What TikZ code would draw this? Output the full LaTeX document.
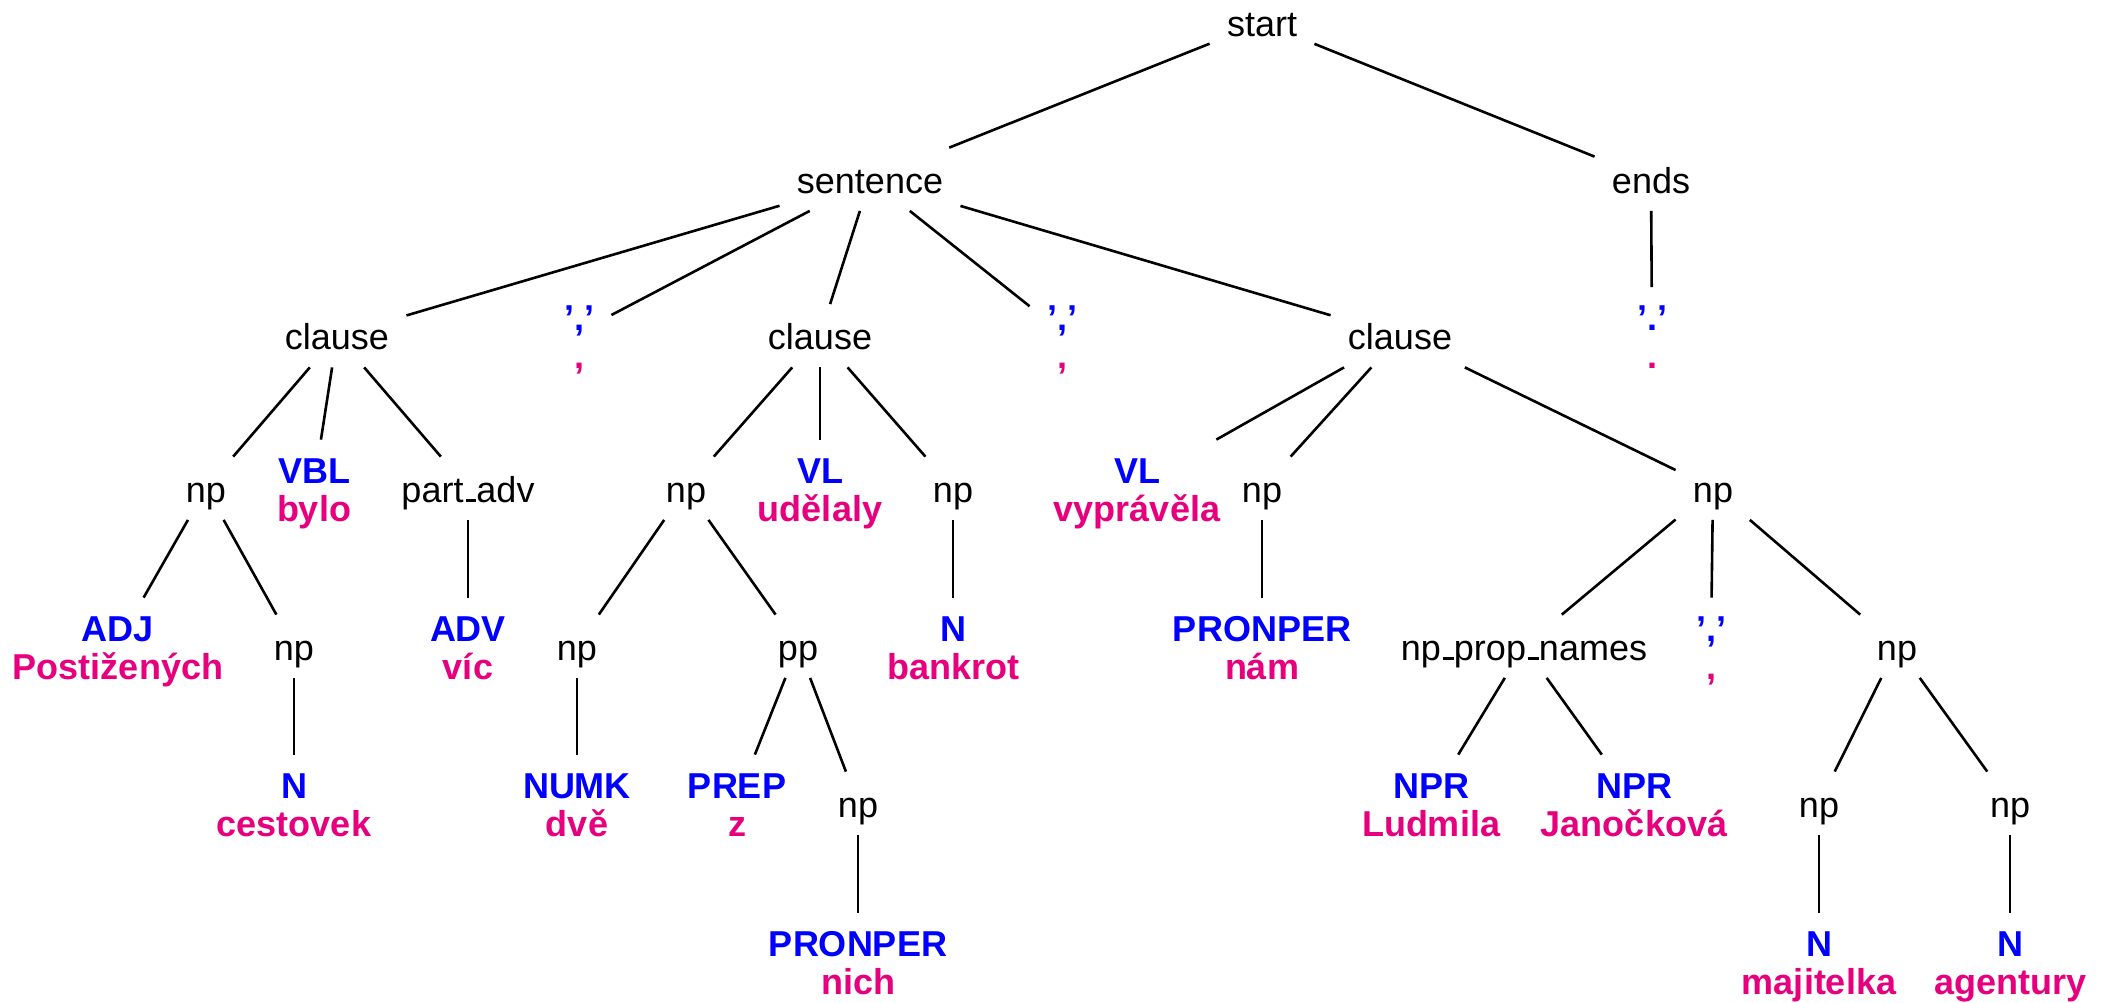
\documentclass[tikz,border=0pt]{standalone}
\usepackage{fontspec}
\setmainfont{Liberation Sans}
\definecolor{tblue}{HTML}{0000FF}
\definecolor{tpink}{HTML}{E6007E}
\newcommand\us{\leavevmode\kern.06em\vbox{\hrule width.3em height .08em}}
\newcommand\lfx[2]{\vtop{\baselineskip=19pt\lineskiplimit=0pt\halign{\hfil##\hfil\cr\textcolor{tblue}{\bfseries#1}\cr\textcolor{tpink}{\bfseries#2}\cr}}}
\begin{document}
\begin{tikzpicture}[x=0.5pt,y=-0.5pt,
  nt/.style={font=\fontsize{18pt}{19pt}\selectfont, anchor=base, text height=22.5pt, text depth=8.75pt, inner ysep=0pt, inner xsep=8.5pt},
  lf/.style={font=\fontsize{18pt}{19pt}\selectfont, anchor=base, text height=21.5pt, text depth=23pt, inner ysep=0pt, inner xsep=8.5pt},
  ed/.style={line width=1.3pt}]
\useasboundingbox (0,0) rectangle (2105,1002);
% level 0-2
\node[nt] (start) at (1262,36.5) {start};
\node[nt] (sentence) at (870,193) {sentence};
\node[nt] (ends) at (1651,193) {ends};
\node[nt] (cl1) at (337,349.5) {clause};
\node[lf] (cm1) at (579,330.5) {\lfx{’,’}{,}};
\node[nt] (cl2) at (820,349.5) {clause};
\node[lf] (cm2) at (1062,330.5) {\lfx{’,’}{,}};
\node[nt] (cl3) at (1400,349.5) {clause};
\node[lf] (dt) at (1652,330.5) {\lfx{’.’}{.}};
% level 3
\node[nt] (np1) at (206,502) {np};
\node[lf] (vbl) at (314,483) {\lfx{VBL}{bylo}};
\node[nt] (padv) at (468,502) {part\us adv};
\node[nt] (np2) at (686,502) {np};
\node[lf] (vl1) at (820,483) {\lfx{VL}{udělaly}};
\node[nt] (np3) at (953,502) {np};
\node[lf] (vl2) at (1137,483) {\lfx{VL}{vyprávěla}};
\node[nt] (np4) at (1262,502) {np};
\node[nt] (np5) at (1713,502) {np};
% level 4
\node[lf] (adj) at (118,641) {\lfx{ADJ}{Postižených}};
\node[nt] (np6) at (294,660) {np};
\node[lf] (adv) at (468,641) {\lfx{ADV}{víc}};
\node[nt] (np7) at (577,660) {np};
\node[nt] (pp) at (798,660) {pp};
\node[lf] (nbank) at (953,641) {\lfx{N}{bankrot}};
\node[lf] (pron1) at (1262,641) {\lfx{PRONPER}{nám}};
\node[nt] (npn) at (1524,660) {np\us prop\us names};
\node[lf] (cm3) at (1711,641) {\lfx{’,’}{,}};
\node[nt] (np8) at (1897,660) {np};
% level 5
\node[lf] (ncest) at (294,798) {\lfx{N}{cestovek}};
\node[lf] (numk) at (577,798) {\lfx{NUMK}{dvě}};
\node[lf] (prep) at (737,798) {\lfx{PREP}{z}};
\node[nt] (np9) at (858,817) {np};
\node[lf] (npr1) at (1431,798) {\lfx{NPR}{Ludmila}};
\node[lf] (npr2) at (1634,798) {\lfx{NPR}{Janočková}};
\node[nt] (np10) at (1819,817) {np};
\node[nt] (np11) at (2010,817) {np};
% level 6
\node[lf] (pron2) at (858,956.5) {\lfx{PRONPER}{nich}};
\node[lf] (nmaj) at (1819,956.5) {\lfx{N}{majitelka}};
\node[lf] (nag) at (2010,956.5) {\lfx{N}{agentury}};
% edges
\draw[ed] (start) -- (sentence);
\draw[ed] (start) -- (ends);
\draw[ed] (sentence) -- (cl1);
\draw[ed] (sentence) -- (cm1);
\draw[ed] (sentence) -- (cl2);
\draw[ed] (sentence) -- (cm2);
\draw[ed] (sentence) -- (cl3);
\draw[ed] (ends) -- (dt);
\draw[ed] (cl1) -- (np1);
\draw[ed] (cl1) -- (vbl);
\draw[ed] (cl1) -- (padv);
\draw[ed] (cl2) -- (np2);
\draw[ed] (cl2) -- (vl1);
\draw[ed] (cl2) -- (np3);
\draw[ed] (cl3) -- (vl2);
\draw[ed] (cl3) -- (np4);
\draw[ed] (cl3) -- (np5);
\draw[ed] (np1) -- (adj);
\draw[ed] (np1) -- (np6);
\draw[ed] (padv) -- (adv);
\draw[ed] (np2) -- (np7);
\draw[ed] (np2) -- (pp);
\draw[ed] (np3) -- (nbank);
\draw[ed] (np4) -- (pron1);
\draw[ed] (np5) -- (npn);
\draw[ed] (np5) -- (cm3);
\draw[ed] (np5) -- (np8);
\draw[ed] (np6) -- (ncest);
\draw[ed] (np7) -- (numk);
\draw[ed] (pp) -- (prep);
\draw[ed] (pp) -- (np9);
\draw[ed] (npn) -- (npr1);
\draw[ed] (npn) -- (npr2);
\draw[ed] (np8) -- (np10);
\draw[ed] (np8) -- (np11);
\draw[ed] (np9) -- (pron2);
\draw[ed] (np10) -- (nmaj);
\draw[ed] (np11) -- (nag);
\end{tikzpicture}
\end{document}
